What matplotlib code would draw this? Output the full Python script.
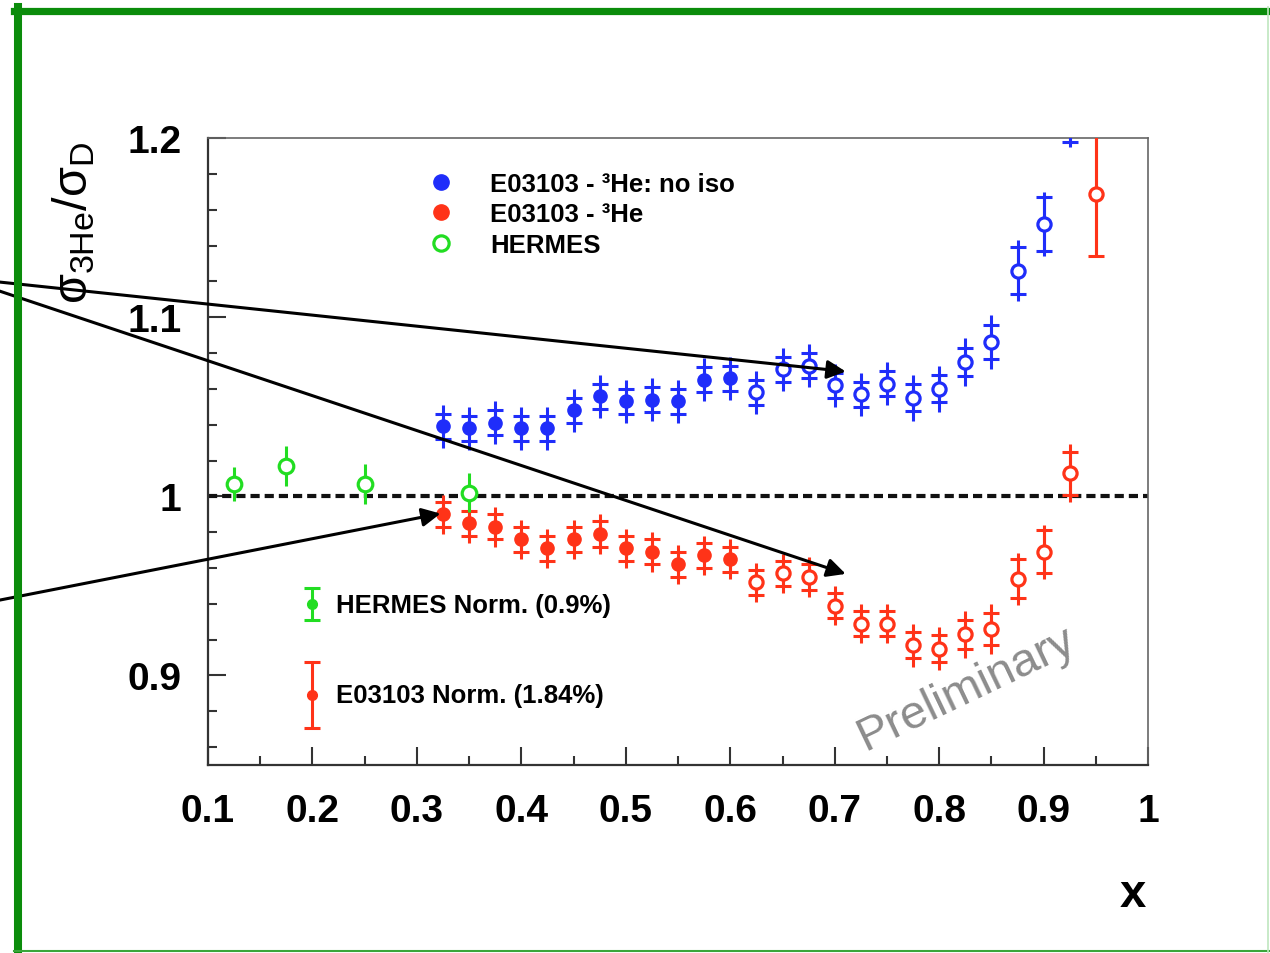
import numpy as np
import matplotlib.pyplot as plt
from matplotlib.lines import Line2D
from matplotlib.ticker import MultipleLocator, FuncFormatter

plt.rcParams['font.family'] = ['Liberation Sans', 'DejaVu Sans']
plt.rcParams['mathtext.fontset'] = 'custom'
plt.rcParams['mathtext.rm'] = 'Liberation Sans'
plt.rcParams['mathtext.it'] = 'Liberation Sans'
plt.rcParams['mathtext.bf'] = 'Liberation Sans:bold'

# E03103 3He/D ratio, no isoscalar correction
x_noiso = [0.325, 0.35, 0.375, 0.4, 0.425, 0.45, 0.475, 0.5, 0.525, 0.55, 0.575, 0.6,
           0.625, 0.65, 0.675, 0.7, 0.725, 0.75, 0.775, 0.8, 0.825, 0.85, 0.875, 0.9, 0.925]
r_noiso = [1.039, 1.038, 1.041, 1.038, 1.038, 1.048, 1.056, 1.053, 1.054, 1.053, 1.065, 1.066,
           1.058, 1.071, 1.073, 1.062, 1.057, 1.063, 1.055, 1.060, 1.075, 1.086, 1.126, 1.152, 1.215]
stat_noiso = [0.007, 0.007, 0.007, 0.007, 0.007, 0.007, 0.007, 0.007, 0.007, 0.007, 0.007, 0.007,
              0.007, 0.007, 0.007, 0.007, 0.007, 0.007, 0.0075, 0.0075, 0.008, 0.0095, 0.013, 0.015, 0.017]
tot_noiso = [0.012, 0.012, 0.012, 0.012, 0.012, 0.012, 0.012, 0.012, 0.012, 0.012, 0.012, 0.012,
             0.012, 0.012, 0.012, 0.012, 0.012, 0.012, 0.013, 0.013, 0.0135, 0.015, 0.017, 0.018, 0.02]

# E03103 3He/D ratio
x_he3 = [0.325, 0.35, 0.375, 0.4, 0.425, 0.45, 0.475, 0.5, 0.525, 0.55, 0.575, 0.6,
         0.625, 0.65, 0.675, 0.7, 0.725, 0.75, 0.775, 0.8, 0.825, 0.85, 0.875, 0.9, 0.925, 0.95]
r_he3 = [0.990, 0.985, 0.983, 0.976, 0.971, 0.976, 0.979, 0.971, 0.969, 0.962, 0.967, 0.965,
         0.952, 0.957, 0.955, 0.939, 0.929, 0.929, 0.917, 0.915, 0.923, 0.926, 0.954, 0.969, 1.013, 1.169]
stat_he3 = [0.007, 0.007, 0.007, 0.007, 0.007, 0.007, 0.007, 0.007, 0.007, 0.007, 0.007, 0.007,
            0.007, 0.007, 0.007, 0.007, 0.007, 0.007, 0.0075, 0.0075, 0.008, 0.009, 0.011, 0.012, 0.012, 0.035]
tot_he3 = [0.011, 0.011, 0.011, 0.011, 0.011, 0.011, 0.011, 0.011, 0.011, 0.011, 0.011, 0.011,
           0.011, 0.011, 0.011, 0.011, 0.011, 0.011, 0.012, 0.012, 0.013, 0.014, 0.0145, 0.015, 0.016, 0.035]

# HERMES
x_hermes = [0.125, 0.175, 0.25, 0.35]
r_hermes = [1.007, 1.017, 1.007, 1.002]
err_hermes = [0.0095, 0.011, 0.011, 0.011]

# normalisation uncertainties
norm_hermes = 0.009
norm_e03103 = 0.0184

x_open = 0.61  # points above this x drawn as open markers

BLUE = '#1f2dfa'
RED = '#ff3318'
GREEN = '#22dd22'
FRAME = '#0b8c0b'

fig = plt.figure(figsize=(12.7, 9.54), dpi=100)
ax = fig.add_axes([0.1638, 0.197, 0.7402, 0.6572])


def draw_series(xs, ys, stat, tot, color):
    xs = np.array(xs)
    ys = np.array(ys)
    ax.errorbar(xs, ys, yerr=tot, fmt='none', ecolor=color, elinewidth=2.2, capsize=0, zorder=3)
    ax.errorbar(xs, ys, yerr=stat, fmt='none', ecolor=color, elinewidth=2.2,
                capsize=5.5, capthick=2.2, zorder=3)
    filled = xs < x_open
    ax.plot(xs[filled], ys[filled], 'o', color=color, ms=9.5, mec=color, zorder=4)
    ax.plot(xs[~filled], ys[~filled], 'o', mfc='white', mec=color, mew=2.3, ms=9.5, zorder=4)


ax.axhline(1.0, color='#111111', lw=3, ls=(0, (2.2, 1.2)), zorder=2)

draw_series(x_noiso, r_noiso, stat_noiso, tot_noiso, BLUE)
draw_series(x_he3, r_he3, stat_he3, tot_he3, RED)

ax.errorbar(x_hermes, r_hermes, yerr=err_hermes, fmt='o', mfc='white', mec=GREEN, mew=2.3,
            ms=10.5, ecolor=GREEN, elinewidth=2.2, capsize=0, zorder=4)

# normalisation bars
ax.errorbar([0.2], [0.940], yerr=[norm_hermes], fmt='o', color=GREEN, ms=7,
            elinewidth=2.2, capsize=5.5, capthick=2.2, zorder=4)
ax.errorbar([0.2], [0.889], yerr=[norm_e03103], fmt='o', color=RED, ms=7,
            elinewidth=2.2, capsize=5.5, capthick=2.2, zorder=4)
ax.text(0.2226, 0.9395, 'HERMES Norm. (0.9%)', fontsize=18.5, fontweight='bold',
        ha='left', va='center')
ax.text(0.2226, 0.8893, 'E03103 Norm. (1.84%)', fontsize=18.5, fontweight='bold',
        ha='left', va='center')

ax.text(0.826, 0.893, 'Preliminary', color='#8c8c8c', fontsize=34, rotation=25.5,
        rotation_mode='anchor', ha='center', va='center')

# legend
handles = [
    Line2D([], [], ls='none', marker='o', color=BLUE, ms=11),
    Line2D([], [], ls='none', marker='o', color=RED, ms=11),
    Line2D([], [], ls='none', marker='o', mfc='white', mec=GREEN, mew=2.3, ms=11),
]
labels = ['E03103 - ³He: no iso', 'E03103 - ³He', 'HERMES']
leg = ax.legend(handles, labels, loc='upper left', bbox_to_anchor=(0.221, 0.966),
                frameon=False, handlelength=1.0, handletextpad=1.4, labelspacing=0.24,
                prop={'size': 18.5, 'weight': 'bold'}, borderpad=0)

ax.set_xlim(0.1, 1.0)
ax.set_ylim(0.85, 1.2)
ax.xaxis.set_major_locator(MultipleLocator(0.1))
ax.xaxis.set_minor_locator(MultipleLocator(0.05))
ax.yaxis.set_major_locator(MultipleLocator(0.1))
ax.yaxis.set_minor_locator(MultipleLocator(0.02))
fmt = FuncFormatter(lambda v, p: '%g' % round(v, 2))
ax.xaxis.set_major_formatter(fmt)
ax.yaxis.set_major_formatter(fmt)
ax.tick_params(which='both', direction='in', top=False, right=False, color='#333333', width=1.5)
ax.tick_params(which='major', length=13)
ax.tick_params(which='minor', length=6.5)
ax.tick_params(axis='x', which='major', pad=20, labelsize=28)
ax.tick_params(axis='y', which='major', pad=19, labelsize=28)
for lab in ax.get_xticklabels() + ax.get_yticklabels():
    lab.set_fontweight('bold')

for side in ['left', 'bottom']:
    ax.spines[side].set_color('#333333')
    ax.spines[side].set_linewidth(1.6)
for side in ['top', 'right']:
    ax.spines[side].set_color('#666666')
    ax.spines[side].set_linewidth(1.2)

fig.text(74 / 1270, 1 - 223 / 954, r'$\sigma_{3He}/\sigma_{D}$', fontsize=35,
         rotation=90, ha='center', va='center')
fig.text(1133 / 1270, 1 - 895 / 954, 'x', fontsize=34, fontweight='bold',
         ha='center', va='center')

# arrows coming in from the left edge
arrow_kw = dict(arrowstyle='-|>', color='black', lw=2.2, mutation_scale=28,
                shrinkA=0, shrinkB=0)
for tip, tail in [((0.7105, 1.0697), (-0.016, 0.7055)),
                  ((0.7105, 0.9567), (-0.016, 0.7008)),
                  ((0.3226, 0.9904), (-0.016, 0.3658))]:
    ax.annotate('', xy=tip, xycoords='data', xytext=tail, textcoords='figure fraction',
                arrowprops=arrow_kw, annotation_clip=False, zorder=6)

# green slide frame
W, H = 1270.0, 954.0
fig.add_artist(Line2D([14 / W, 1.0], [1 - 11.5 / H] * 2, color=FRAME, lw=5.2))
fig.add_artist(Line2D([18 / W] * 2, [0.0, 1 - 8 / H], color=FRAME, lw=5.8))
fig.add_artist(Line2D([14 / W, 1.0], [1 - 952 / H] * 2, color='#3aa63a', lw=1.5))
fig.add_artist(Line2D([1268 / W] * 2, [0.0, 1 - 8 / H], color='#bfe6bf', lw=1.2))

fig.savefig('out.png', dpi=100)
